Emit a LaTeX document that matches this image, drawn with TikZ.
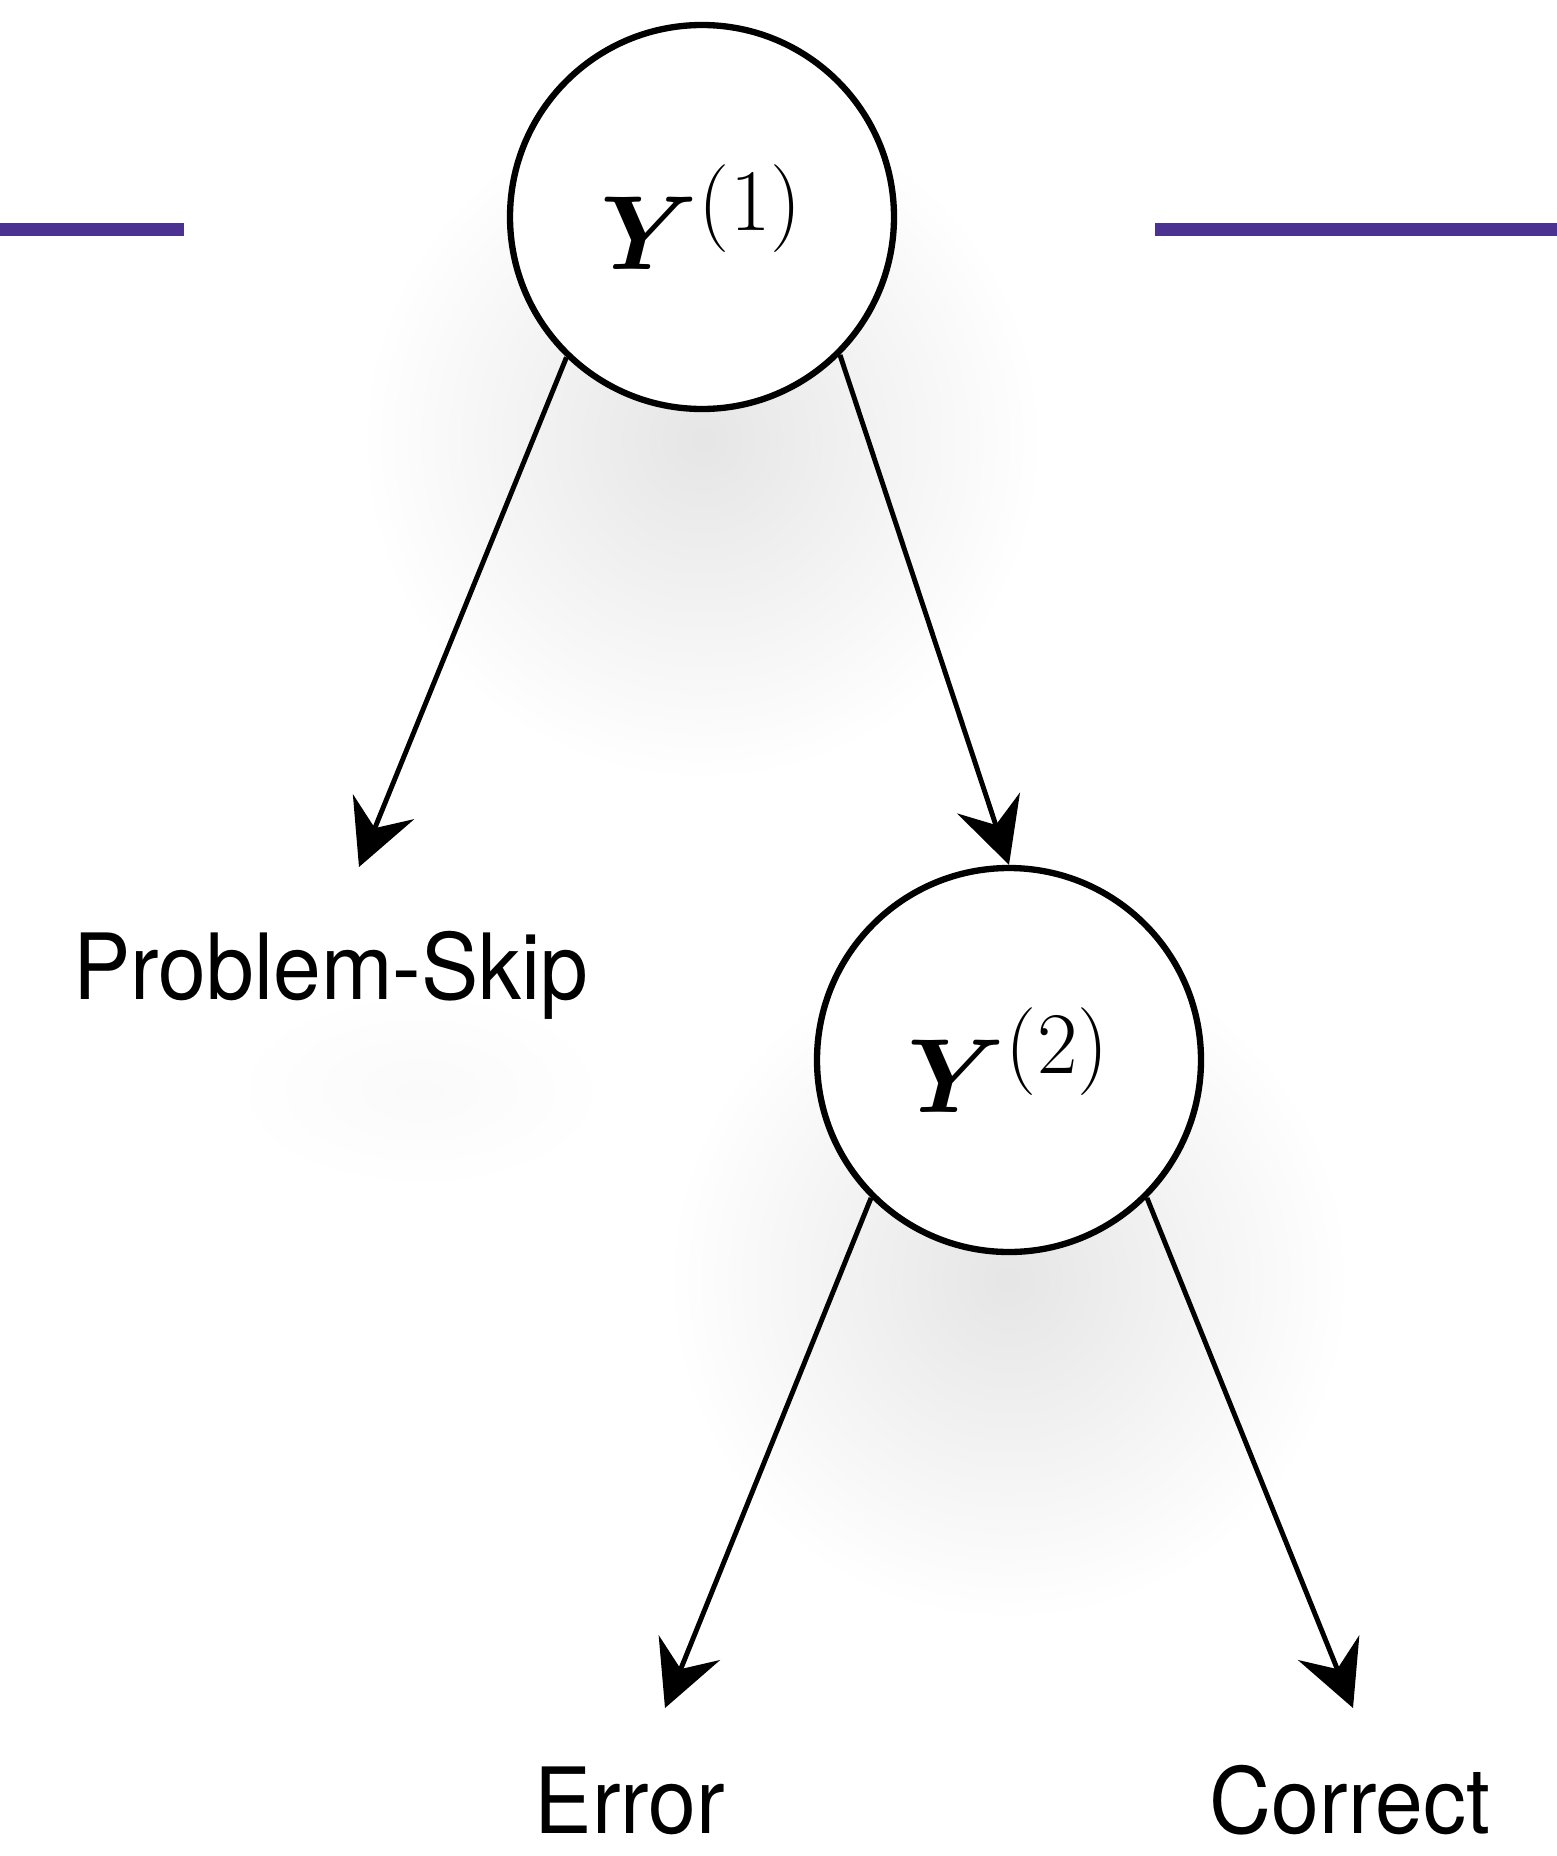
\RequirePackage{fix-cm}
\documentclass[tikz,border=0pt]{standalone}
\usepackage{amsmath,amssymb,bm}
\usepackage{fontspec}
\usepackage{tikz}
\usetikzlibrary{arrows.meta, positioning, fadings, backgrounds}
\newfontfamily\labelfont{TeX Gyre Heros}[FakeStretch=0.94]
\DeclareMathSizes{30}{30}{25}{18}
\definecolor{treepurple}{RGB}{75,50,145}
\tikzfading[name=shadowfade, inner color=transparent!90, outer color=transparent!100]
\tikzfading[name=faintfade, inner color=transparent!98, outer color=transparent!100]
\tikzset{
  varnode/.style={
    circle, draw=black, line width=1.8pt, fill=white,
    minimum size=3.84cm, inner sep=0pt, font=\fontsize{30}{36}\selectfont
  },
  outcome/.style={
    anchor=base, inner sep=0pt, font=\labelfont\fontsize{26}{30}\selectfont
  },
  softshadow/.style={fill=black, draw=none, path fading=shadowfade},
  faintshadow/.style={fill=black, draw=none, path fading=faintfade},
  branch/.style={-{Stealth[length=0.65cm, width=0.66cm, inset=0.23cm]}, line width=1.4pt, draw=black},
  rulebar/.style={line width=3.7pt, draw=treepurple}
}

\begin{document}
\begin{tikzpicture}
\useasboundingbox (0,0) rectangle (15.57,-18.56);

% Variable nodes
\node[varnode] (y1) at (7.02,-2.17) {$\bm{Y}^{(1)}$};
\node[varnode] (y2) at (10.09,-10.60) {$\bm{Y}^{(2)}$};

% Outcomes
\node[outcome] (skip) at (3.31,-9.99) {Problem-Skip};
\node[outcome] (error) at (6.30,-18.33) {Error};
\node[outcome] (correct) at (13.50,-18.33) {Correct};

% Arrow ends above the labels
\coordinate (skipin) at (3.59,-8.67);
\coordinate (errorin) at (6.65,-17.08);
\coordinate (correctin) at (13.53,-17.08);

% Arrows
\foreach \a/\b in {y1.226/skipin, y1.315/y2.north, y2.225/errorin, y2.315/correctin}
  \draw[branch] (\a) -- (\b);

% Purple rules at the top
\draw[rulebar] (0,-2.29) -- (1.84,-2.29);
\draw[rulebar] (11.55,-2.29) -- (15.57,-2.29);

% Soft shadows
\begin{scope}[on background layer]
\fill[softshadow] (7.02,-4.40) circle (3.4);
\fill[softshadow] (10.09,-12.80) circle (3.4);
\fill[faintshadow] (4.20,-10.90) ellipse (1.9 and 1.0);
\end{scope}

\end{tikzpicture}
\end{document}
